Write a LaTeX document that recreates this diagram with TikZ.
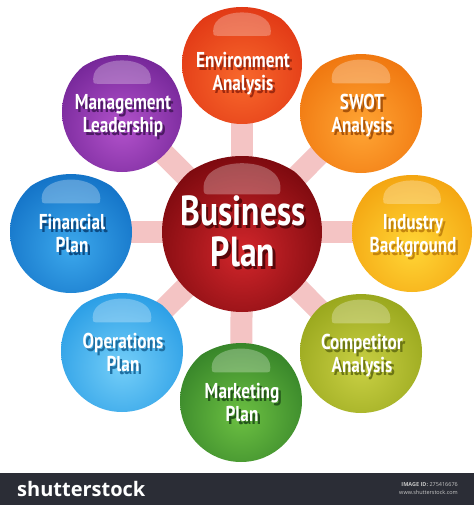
\documentclass[tikz,border=0pt]{standalone}
\usepackage{fontspec}
\newfontfamily\labfont{PT Sans}[FakeStretch=0.8]
\newfontfamily\logofont{Open Sans}
\definecolor{pinkc}{HTML}{F4C4C4}
\definecolor{barc}{HTML}{2B2D36}
\definecolor{cOut}{HTML}{7E0A0F}\definecolor{cIn}{HTML}{D2262B}
\definecolor{envOut}{HTML}{E23A16}\definecolor{envIn}{HTML}{F8682C}
\definecolor{swOut}{HTML}{F07810}\definecolor{swIn}{HTML}{FFA534}
\definecolor{inOut}{HTML}{F4A612}\definecolor{inIn}{HTML}{FFD636}
\definecolor{coOut}{HTML}{9AA81E}\definecolor{coIn}{HTML}{C9D044}
\definecolor{mkOut}{HTML}{38862A}\definecolor{mkIn}{HTML}{6CC042}
\definecolor{opOut}{HTML}{2C9FE6}\definecolor{opIn}{HTML}{74CEF8}
\definecolor{fiOut}{HTML}{1474C8}\definecolor{fiIn}{HTML}{3CA8EC}
\definecolor{maOut}{HTML}{77289A}\definecolor{maIn}{HTML}{B252CB}
\tikzset{
  anchorball/.style={circle,inner sep=0pt,minimum size=#1},
  conn/.style={pinkc,line width=22pt},
  lab/.style={inner sep=0pt,font=\labfont\bfseries\fontsize{21.5}{23}\selectfont},
  biglab/.style={inner sep=0pt,font=\labfont\bfseries\fontsize{42}{37}\selectfont},
}
% text with a dark offset shadow, in one box
\newcommand{\shtext}[2]{%
  \setbox0=\hbox{\color{#1}\begin{tabular}{@{}c@{}}#2\end{tabular}}%
  \setbox2=\hbox{\color{white}\begin{tabular}{@{}c@{}}#2\end{tabular}}%
  \rlap{\kern2.5pt\raise-2.8pt\box0}\box2}
% #1 cx, #2 cy, #3 r, #4 outer colour, #5 inner colour
\newcommand{\glossball}[5]{%
  \begin{scope}
    \clip (#1,#2) circle[radius=#3pt];
    \shade[inner color=#5, outer color=#4] (#1,{#2+0.25*#3}) circle[radius={1.2*#3pt}];
  \end{scope}
  \pgfmathsetmacro\gxl{#1-0.48*#3}\pgfmathsetmacro\gxr{#1+0.48*#3}%
  \pgfmathsetmacro\gxli{#1-0.38*#3}\pgfmathsetmacro\gxri{#1+0.38*#3}%
  \pgfmathsetmacro\gys{#2-0.56*#3}\pgfmathsetmacro\gyc{#2-0.96*#3}%
  \pgfmathsetmacro\gyb{#2-0.47*#3}%
  \fill[white,opacity=0.28] (\gxl,\gys) .. controls (\gxl,\gyc) and (\gxr,\gyc) .. (\gxr,\gys)
     .. controls (\gxr,\gyb) .. (\gxri,\gyb) -- (\gxli,\gyb) .. controls (\gxl,\gyb) .. (\gxl,\gys) -- cycle;
}
\begin{document}
\begin{tikzpicture}[x=1pt,y=-1pt]
\useasboundingbox (0,0) rectangle (474,505);
\fill[white] (0,0) rectangle (474,505);
% anchor nodes
\node[anchorball=160pt] (c) at (242,232) {};
\node[anchorball=120pt] (env) at (242,64) {};
\node[anchorball=122pt] (swot) at (361,112) {};
\node[anchorball=120pt] (ind) at (412,232) {};
\node[anchorball=122pt] (comp) at (361,352) {};
\node[anchorball=122pt] (mkt) at (241,401) {};
\node[anchorball=122pt] (ops) at (122,351) {};
\node[anchorball=122pt] (fin) at (71,232) {};
\node[anchorball=120pt] (mgmt) at (122,112) {};
% connectors
\foreach \t in {env,swot,ind,comp,mkt,ops,fin,mgmt}
  \draw[conn] (c.center) -- (\t.center);
% balls
\glossball{242}{232}{80}{cOut}{cIn}
\glossball{242}{64}{60}{envOut}{envIn}
\glossball{361}{112}{61}{swOut}{swIn}
\glossball{412}{232}{60}{inOut}{inIn}
\glossball{361}{352}{61}{coOut}{coIn}
\glossball{241}{401}{61}{mkOut}{mkIn}
\glossball{122}{351}{61}{opOut}{opIn}
\glossball{71}{232}{61}{fiOut}{fiIn}
\glossball{122}{112}{60}{maOut}{maIn}
% labels
\node[biglab] (tc) at (243,238) {\shtext{cOut!70!black}{Business\\Plan}};
\node[lab] (tenv) at (243,76) {\shtext{envOut!70!black}{Environment\\Analysis}};
\node[lab] (tswot) at (362,118) {\shtext{swOut!70!black}{SWOT\\Analysis}};
\node[lab] (tind) at (413,238) {\shtext{inOut!80!black}{Industry\\Background}};
\node[lab] (tcomp) at (362,358) {\shtext{coOut!70!black}{Competitor\\Analysis}};
\node[lab] (tmkt) at (242,407) {\shtext{mkOut!65!black}{Marketing\\Plan}};
\node[lab] (tops) at (123,357) {\shtext{opOut!70!black}{Operations\\Plan}};
\node[lab] (tfin) at (72,238) {\shtext{fiOut!65!black}{Financial\\Plan}};
\node[lab] (tmgmt) at (123,118) {\shtext{maOut!65!black}{Management\\Leadership}};
% bottom bar
\fill[barc] (0,473) rectangle (474,505);
\node[anchor=base west,inner sep=0pt,text=white,font=\logofont\bfseries\fontsize{20}{22}\selectfont] (logo) at (17,496) {shutterstock};
\node[anchor=base east,inner sep=0pt,text=gray!45,font=\logofont\fontsize{5.5}{6}\selectfont] (imgid) at (458,486) {\textbf{IMAGE ID:} 275416676};
\node[anchor=base east,inner sep=0pt,text=gray!45,font=\logofont\fontsize{5.5}{6}\selectfont] (www) at (458,494) {www.shutterstock.com};
\end{tikzpicture}
\end{document}
